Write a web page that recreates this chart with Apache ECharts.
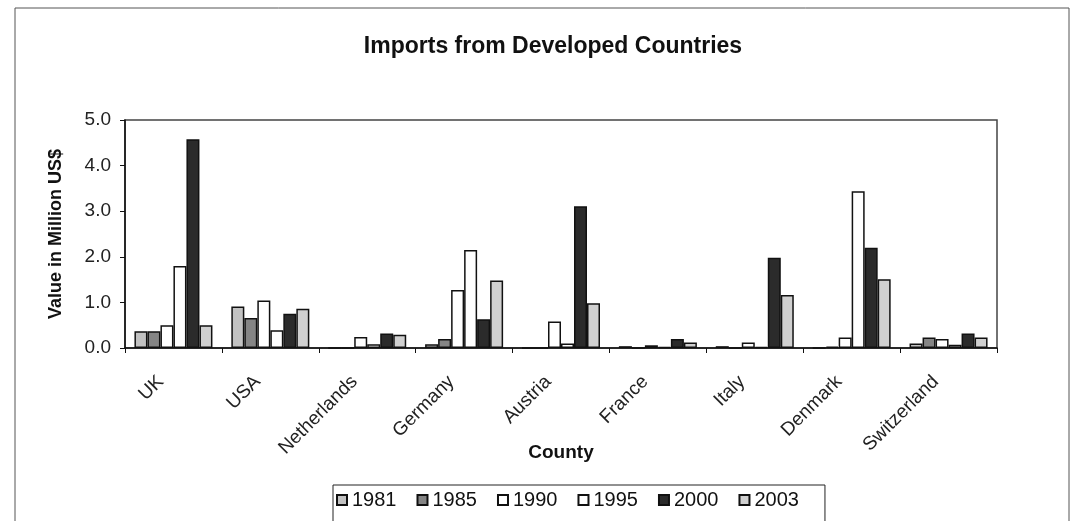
<!DOCTYPE html>
<html>
<head>
<meta charset="utf-8">
<script src="https://cdn.jsdelivr.net/npm/echarts@6/dist/echarts.min.js"></script>
<style>
  html, body { margin: 0; padding: 0; background: #fff; }
  #chart { width: 1074px; height: 521px; }
</style>
</head>
<body>
<div id="chart"></div>
<script>
// countries on the x axis
const countries = ['UK', 'USA', 'Netherlands', 'Germany', 'Austria', 'France', 'Italy', 'Denmark', 'Switzerland']
const years = ['1981', '1985', '1990', '1995', '2000', '2003']

// values in million US$
const v1981 = [0.37, 0.91, 0, 0.08, 0, 0.04, 0.04, 0, 0.10]
const v1985 = [0.37, 0.66, 0, 0.20, 0, 0, 0, 0.03, 0.23]
const v1990 = [0.50, 1.04, 0.24, 1.27, 0.58, 0.06, 0.12, 0.23, 0.20]
const v1995 = [1.80, 0.39, 0.08, 2.15, 0.10, 0.02, 0.02, 3.44, 0.07]
const v2000 = [4.58, 0.75, 0.32, 0.63, 3.11, 0.20, 1.98, 2.20, 0.32]
const v2003 = [0.50, 0.86, 0.29, 1.48, 0.98, 0.12, 1.16, 1.51, 0.23]

const yTicks = [0, 1, 2, 3, 4, 5]

const allValues = [v1981, v1985, v1990, v1995, v2000, v2003]
const fills = ['#c2c2c2', '#858585', '#ffffff', '#ffffff', '#2b2b2b', '#d0d0d0']

const font = '"Liberation Sans", Arial, sans-serif'

const chart = echarts.init(document.getElementById('chart'))

const option = {
  animation: false,
  textStyle: { fontFamily: font },
  title: {
    text: 'Imports from Developed Countries',
    left: 548,
    textAlign: 'center',
    top: 30,
    textStyle: { fontSize: 23, fontWeight: 'bold', color: '#111', fontFamily: font }
  },
  legend: {
    data: years,
    left: 333,
    top: 485,
    itemWidth: 10,
    itemHeight: 10,
    itemGap: 20,
    icon: 'rect',
    borderColor: '#222',
    borderWidth: 1,
    padding: [5, 26, 14, 3],
    textStyle: { fontSize: 20, color: '#111', fontFamily: font }
  },
  grid: {
    left: 125,
    right: 77,
    top: 120,
    bottom: 173,
    show: true,
    borderColor: '#444',
    borderWidth: 1.5,
    backgroundColor: '#fff'
  },
  xAxis: {
    type: 'category',
    data: countries,
    name: 'County',
    nameLocation: 'middle',
    nameGap: 95,
    nameMoveOverlap: false,
    nameTextStyle: { fontSize: 19, fontWeight: 'bold', color: '#111' },
    axisLine: { lineStyle: { color: '#111', width: 1.5 } },
    axisTick: { show: true, length: 5, lineStyle: { color: '#111' } },
    axisLabel: { rotate: 45, fontSize: 19, color: '#222', margin: 18, padding: [0, 18, 0, 0] }
  },
  yAxis: {
    type: 'value',
    min: 0,
    max: yTicks[yTicks.length - 1],
    interval: 1,
    name: 'Value in Million US$',
    nameLocation: 'middle',
    nameGap: 60,
    nameTextStyle: { fontSize: 18, fontWeight: 'bold', color: '#111' },
    axisLine: { show: true, lineStyle: { color: '#111', width: 1.5 } },
    axisTick: { show: true, length: 5, lineStyle: { color: '#111' } },
    splitLine: { show: false },
    axisLabel: {
      fontSize: 19,
      color: '#222',
      margin: 14,
      formatter: (v) => v.toFixed(1)
    }
  },
  graphic: [
    {
      type: 'rect',
      silent: true,
      z: -10,
      shape: { x: 15, y: 8, width: 1054, height: 530 },
      style: { fill: 'none', stroke: '#555', lineWidth: 1 }
    }
  ],
  series: years.map((y, i) => ({
    name: y,
    type: 'bar',
    data: allValues[i],
    barWidth: 13,
    barGap: '0%',
    itemStyle: { color: fills[i], borderColor: '#111', borderWidth: 1.5 }
  }))
}

chart.setOption(option)
</script>
</body>
</html>
